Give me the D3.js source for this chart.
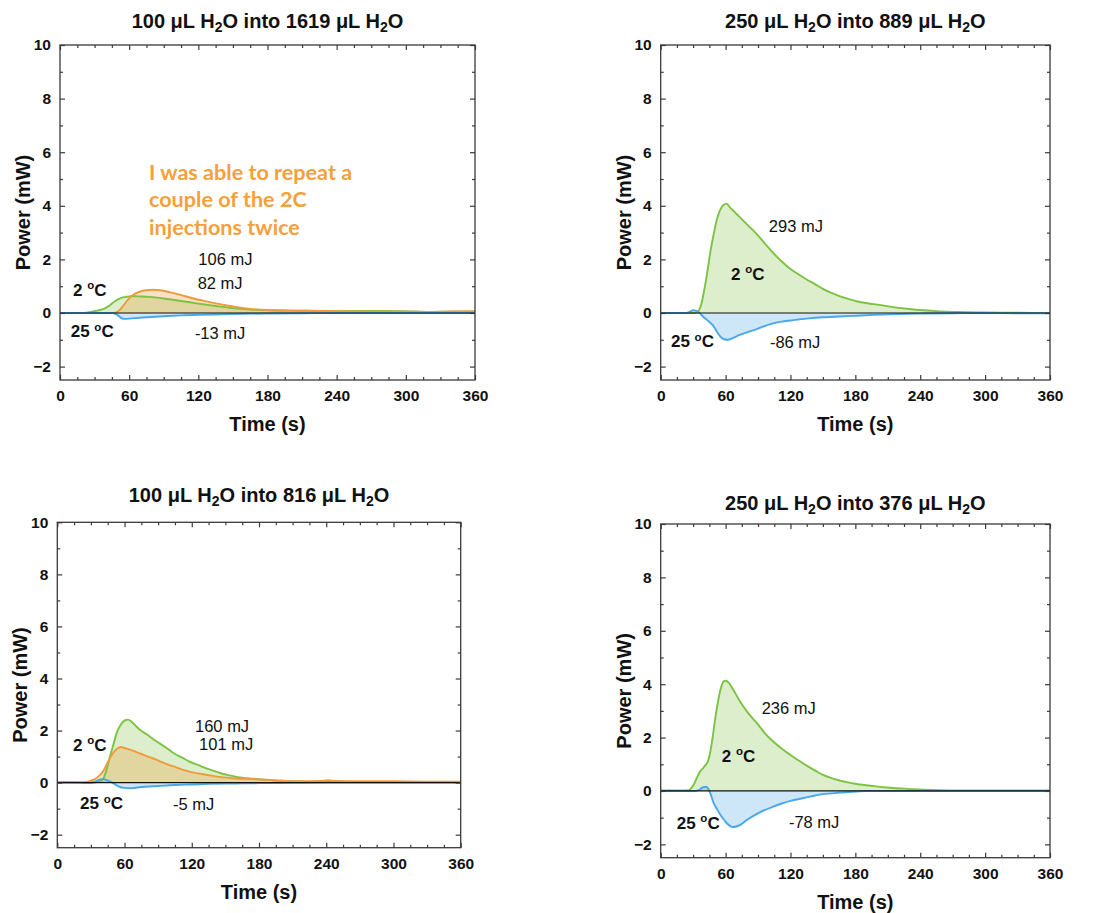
<!DOCTYPE html>
<html><head><meta charset="utf-8">
<script src="https://cdn.jsdelivr.net/npm/d3@7"></script>
<style>
body{margin:0;background:#fff;}
svg{display:block;}
</style></head>
<body>
<svg id="chart" width="1097" height="913"></svg>
<script>
// ---------- data ----------
const xTickValues = [0, 60, 120, 180, 240, 300, 360];
const yTickValues = [-2, 0, 2, 4, 6, 8, 10];
const xDomain = [0, 360];
const yDomain = [-2.5, 10];

const panelTitles = [
  ["100", "1619"],
  ["250", "889"],
  ["100", "816"],
  ["250", "376"]
];

// Panel 1: 100 uL into 1619 uL
const p1Green = [[0,0],[20,0],[28,0.05],[33,0.1],[38,0.15],[42,0.25],[47,0.42],[52,0.55],[57,0.6],[62,0.63],[68,0.62],[78,0.6],[90,0.54],[105,0.45],[120,0.35],[135,0.26],[150,0.18],[165,0.13],[180,0.1],[200,0.09],[240,0.07],[270,0.08],[300,0.07],[320,0.04],[340,0.05],[360,0.05]];
const p1Orange = [[0,0],[47,0],[51,0.08],[55,0.28],[59,0.5],[63,0.66],[68,0.78],[74,0.85],[81,0.87],[87,0.85],[95,0.78],[105,0.67],[115,0.55],[125,0.45],[135,0.36],[145,0.28],[155,0.21],[165,0.15],[175,0.12],[185,0.1],[200,0.09],[240,0.07],[280,0.05],[320,0.04],[340,0.06],[360,0.07]];
const p1Blue = [[0,0],[45,0],[49,-0.05],[53,-0.18],[56,-0.22],[62,-0.2],[75,-0.16],[90,-0.12],[105,-0.09],[120,-0.07],[140,-0.05],[160,-0.03],[180,-0.02],[210,-0.01],[240,0],[360,0]];

// Panel 2: 250 uL into 889 uL
const p2Green = [[0,0],[30,0],[34,0.02],[36,0.15],[38,0.4],[40,0.8],[43,1.5],[46,2.3],[49,2.95],[52,3.5],[55,3.85],[58,4.03],[61,4.08],[64,3.94],[68,3.78],[73,3.58],[80,3.3],[88,2.98],[96,2.61],[104,2.24],[112,1.92],[120,1.64],[128,1.43],[135,1.25],[143,1.07],[150,0.9],[158,0.75],[166,0.62],[174,0.52],[182,0.43],[197,0.33],[212,0.24],[228,0.16],[243,0.1],[258,0.06],[273,0.04],[300,0.02],[330,0.01],[360,0]];
const p2Blue = [[0,0],[24,0],[27,0.05],[30,0.1],[33,0.08],[36,0],[39,-0.13],[44,-0.3],[49,-0.5],[52,-0.7],[55,-0.87],[58,-0.97],[62,-1.0],[67,-0.93],[73,-0.82],[80,-0.72],[89,-0.6],[96,-0.49],[104,-0.39],[112,-0.32],[120,-0.28],[135,-0.21],[150,-0.16],[165,-0.13],[181,-0.1],[197,-0.07],[212,-0.05],[228,-0.03],[243,-0.02],[270,-0.01],[300,0],[330,-0.01],[360,-0.01]];

// Panel 3: 100 uL into 816 uL
const p3Green = [[0,0.02],[20,0.0],[26,-0.02],[32,0.0],[38,0.05],[41,0.15],[44,0.5],[47,1.0],[50,1.45],[53,1.9],[57,2.25],[60,2.38],[63,2.42],[66,2.35],[70,2.18],[74,2.02],[80,1.85],[88,1.6],[96,1.38],[104,1.13],[111,0.97],[118,0.81],[126,0.67],[133,0.55],[141,0.43],[148,0.33],[156,0.26],[163,0.2],[171,0.16],[178,0.14],[190,0.1],[200,0.07],[220,0.04],[240,0.03],[300,0.02],[360,0.02]];
const p3Orange = [[0,0.03],[20,0.02],[26,0.03],[30,0.08],[34,0.15],[37,0.25],[40,0.38],[43,0.6],[47,0.95],[51,1.2],[54,1.32],[57,1.37],[60,1.33],[66,1.25],[74,1.12],[81,1.0],[89,0.87],[96,0.74],[104,0.62],[111,0.51],[118,0.42],[126,0.35],[133,0.3],[141,0.24],[148,0.2],[156,0.17],[163,0.15],[172,0.14],[180,0.12],[190,0.1],[200,0.07],[220,0.05],[235,0.06],[242,0.09],[248,0.06],[270,0.05],[300,0.05],[330,0.04],[360,0.04]];
const p3Blue = [[0,0],[30,0],[34,0.05],[38,0.12],[41,0.14],[44,0.1],[48,0.03],[51,-0.05],[55,-0.15],[60,-0.2],[66,-0.21],[75,-0.17],[90,-0.13],[105,-0.09],[120,-0.07],[135,-0.05],[150,-0.04],[165,-0.03],[180,-0.02],[210,-0.01],[240,0],[360,0]];

// Panel 4: 250 uL into 376 uL
const p4Green = [[0,0.02],[20,0.02],[26,0.03],[28,0.1],[30,0.2],[33,0.45],[36,0.7],[40,0.9],[44,1.15],[46,1.5],[48,2.0],[50,2.6],[53,3.35],[56,3.9],[58,4.1],[60,4.13],[63,4.05],[67,3.8],[73,3.38],[80,2.96],[89,2.54],[96,2.18],[104,1.85],[112,1.58],[120,1.35],[128,1.13],[135,0.95],[143,0.76],[150,0.6],[158,0.48],[166,0.39],[173,0.32],[181,0.26],[197,0.18],[212,0.12],[228,0.08],[243,0.05],[258,0.03],[273,0.02],[300,0.02],[360,0.02]];
const p4Blue = [[0,0],[32,0],[36,0.05],[39,0.14],[42,0.16],[44,0.08],[46,-0.1],[49,-0.46],[52,-0.68],[55,-0.88],[58,-1.05],[61,-1.2],[64,-1.31],[67,-1.35],[70,-1.33],[74,-1.26],[80,-1.08],[89,-0.86],[96,-0.72],[104,-0.59],[112,-0.47],[120,-0.37],[128,-0.3],[135,-0.24],[143,-0.17],[150,-0.12],[158,-0.09],[166,-0.06],[174,-0.04],[181,-0.02],[190,0],[360,0]];

// energy labels [text, t, v]
const p1Energy = [["106 mJ",120,1.80],["82 mJ",119.4,0.91],["-13 mJ",117,-0.96]];
const p2Energy = [["293 mJ",100,3.03],["-86 mJ",101,-1.32]];
const p3Energy = [["160 mJ",122.9,1.96],["101 mJ",126.5,1.24],["-5 mJ",103.3,-1.06]];
const p4Energy = [["236 mJ",93.4,2.87],["-78 mJ",118.6,-1.37]];
// temperature labels [number, t, v]
const p1Temps = [["2",11.3,0.65],["25",9.3,-0.91]];
const p2Temps = [["2",65,1.24],["25",9.5,-1.28]];
const p3Temps = [["2",14,1.22],["25",20.3,-1.02]];
const p4Temps = [["2",56.4,1.09],["25",14.8,-1.41]];

const noteLines = ["I was able to repeat a", "couple of the 2C", "injections twice"];
const notePos = [77.2, 4.97];

// ---------- style / layout ----------
const COLORS = {
  green: {line: "#7cc243", fill: "rgba(124,194,67,0.27)"},
  orange: {line: "#ef9b3b", fill: "rgba(239,155,59,0.30)"},
  blue: {line: "#4aa8e8", fill: "rgba(74,168,232,0.28)"}
};
const FONT = "'Liberation Sans', Arial, Helvetica, sans-serif";

const panels = [
  {box:{l:60, r:475, t:45, b:380}, titleY:28.3, title:panelTitles[0],
   series:[["green",p1Green],["orange",p1Orange],["blue",p1Blue]], energy:p1Energy, temps:p1Temps, note:true},
  {box:{l:660.7, r:1050, t:45, b:380}, titleY:28.3, title:panelTitles[1],
   series:[["green",p2Green],["blue",p2Blue]], energy:p2Energy, temps:p2Temps},
  {box:{l:57.3, r:460.7, t:522.3, b:847.7}, titleY:502.3, title:panelTitles[2],
   series:[["green",p3Green],["orange",p3Orange],["blue",p3Blue]], energy:p3Energy, temps:p3Temps},
  {box:{l:660.7, r:1050, t:524, b:857.7}, titleY:510, title:panelTitles[3],
   series:[["green",p4Green],["blue",p4Blue]], energy:p4Energy, temps:p4Temps}
];

const svg = d3.select("#chart");
svg.append("rect").attr("width",1097).attr("height",913).attr("fill","#fff");

panels.forEach(p => {
  const B = p.box;
  const x = d3.scaleLinear().domain(xDomain).range([B.l, B.r]);
  const y = d3.scaleLinear().domain(yDomain).range([B.b, B.t]);
  const g = svg.append("g");

  // fills
  const area = d3.area().x(d=>x(d[0])).y0(y(0)).y1(d=>y(d[1])).curve(d3.curveMonotoneX);
  const line = d3.line().x(d=>x(d[0])).y(d=>y(d[1])).curve(d3.curveMonotoneX);
  p.series.forEach(([c, data]) => {
    g.append("path").attr("d", area(data)).attr("fill", COLORS[c].fill).attr("stroke","none");
  });
  p.series.forEach(([c, data]) => {
    g.append("path").attr("d", line(data)).attr("fill","none")
      .attr("stroke", COLORS[c].line).attr("stroke-width", 1.9).attr("stroke-linejoin","round");
  });
  // zero line
  g.append("line").attr("x1",x(0)).attr("x2",x(360)).attr("y1",y(0)).attr("y2",y(0))
    .attr("stroke","#111").attr("stroke-width",1.2);

  // axes with inward ticks (major + minor), mirrored on all sides
  const xMinor = d3.range(0, 361, 15).filter(v => v % 60 !== 0);
  const yMinor = d3.range(-2, 10.5, 1).filter(v => v % 2 !== 0);
  const axCol = "#3a3a3a";
  const mk = (axis, tr) => {
    const a = g.append("g").attr("transform", tr).call(axis);
    a.select(".domain").remove();
    a.selectAll("line").attr("stroke", axCol).attr("stroke-width", 1.2);
    return a;
  };
  const fmt = d3.format("d");
  const bx = mk(d3.axisBottom(x).tickValues(xTickValues).tickSize(-5).tickPadding(10).tickFormat(fmt), `translate(0,${B.b})`);
  mk(d3.axisBottom(x).tickValues(xMinor).tickSize(-3).tickFormat(""), `translate(0,${B.b})`);
  mk(d3.axisTop(x).tickValues(xTickValues).tickSize(-5).tickFormat(""), `translate(0,${B.t})`);
  mk(d3.axisTop(x).tickValues(xMinor).tickSize(-3).tickFormat(""), `translate(0,${B.t})`);
  const ly = mk(d3.axisLeft(y).tickValues(yTickValues).tickSize(-5).tickPadding(9).tickFormat(d => d < 0 ? "\u2212" + Math.abs(d) : d), `translate(${B.l},0)`);
  mk(d3.axisLeft(y).tickValues(yMinor).tickSize(-3).tickFormat(""), `translate(${B.l},0)`);
  mk(d3.axisRight(y).tickValues(yTickValues).tickSize(-5).tickFormat(""), `translate(${B.r},0)`);
  mk(d3.axisRight(y).tickValues(yMinor).tickSize(-3).tickFormat(""), `translate(${B.r},0)`);
  [bx, ly].forEach(a => a.selectAll("text").attr("font-family", FONT).attr("font-size", 15.5)
      .attr("font-weight","bold").attr("fill","#111"));

  // frame
  g.append("rect").attr("x",B.l).attr("y",B.t).attr("width",B.r-B.l).attr("height",B.b-B.t)
    .attr("fill","none").attr("stroke",axCol).attr("stroke-width",1.3);

  // axis titles
  g.append("text").attr("x",(B.l+B.r)/2).attr("y",B.b+51).attr("text-anchor","middle")
    .attr("font-family",FONT).attr("font-size",20).attr("font-weight","bold").attr("fill","#111")
    .text("Time (s)");
  g.append("text").attr("transform",`translate(${B.l-30},${(B.t+B.b)/2}) rotate(-90)`)
    .attr("text-anchor","middle").attr("font-family",FONT).attr("font-size",20)
    .attr("font-weight","bold").attr("fill","#111").text("Power (mW)");

  // title
  const tt = g.append("text").attr("x",(B.l+B.r)/2).attr("y",p.titleY).attr("text-anchor","middle")
    .attr("font-family",FONT).attr("font-size",20).attr("font-weight","bold").attr("fill","#111");
  const sub = () => { tt.append("tspan").attr("font-size",14).attr("dy",4).text("2");
                      tt.append("tspan").attr("dy",-4).text("O"); };
  tt.append("tspan").text(p.title[0] + " \u03bcL H"); sub();
  tt.append("tspan").text(" into " + p.title[1] + " \u03bcL H"); sub();

  // energy labels
  p.energy.forEach(([s, t, v]) => {
    g.append("text").attr("x", x(t)).attr("y", y(v)).attr("font-family",FONT)
      .attr("font-size",16.5).attr("fill","#111").text(s);
  });
  // temperature labels
  p.temps.forEach(([s, t, v]) => {
    const te = g.append("text").attr("x", x(t)).attr("y", y(v)).attr("font-family",FONT)
      .attr("font-size",17).attr("font-weight","bold").attr("fill","#111");
    te.append("tspan").text(s + " ");
    te.append("tspan").attr("font-size",11.5).attr("dy",-6.5).text("o");
    te.append("tspan").attr("dy",6.5).text("C");
  });
  // note
  if (p.note) {
    noteLines.forEach((s, i) => {
      g.append("text").attr("x", x(notePos[0])).attr("y", y(notePos[1]) + i*27.5)
        .attr("font-family","Lato, 'Open Sans', sans-serif").attr("font-size",21.6)
        .attr("font-weight","bold").attr("fill","#f5a03a").text(s);
    });
  }
});
</script>
</body></html>
